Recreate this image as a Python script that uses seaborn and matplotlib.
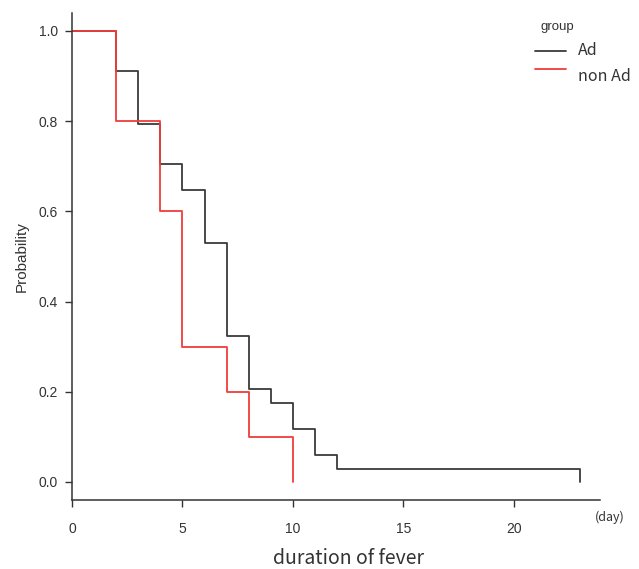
import pandas as pd
import seaborn as sns
import matplotlib.pyplot as plt

# Kaplan-Meier style survival steps
ad_days = [0, 2, 3, 4, 5, 6, 7, 8, 9, 10, 11, 12, 23, 23]
ad_prob = [1.0, 0.912, 0.794, 0.706, 0.647, 0.529, 0.324, 0.206, 0.176,
           0.118, 0.059, 0.029, 0.029, 0.0]
nonad_days = [0, 2, 4, 5, 7, 8, 10, 10]
nonad_prob = [1.0, 0.8, 0.6, 0.3, 0.2, 0.1, 0.1, 0.0]
groups = ["Ad", "non Ad"]
x_ticks = [0, 5, 10, 15, 20]
y_ticks = [0.0, 0.2, 0.4, 0.6, 0.8, 1.0]

df = pd.concat([
    pd.DataFrame({"day": ad_days, "prob": ad_prob, "group": groups[0]}),
    pd.DataFrame({"day": nonad_days, "prob": nonad_prob, "group": groups[1]}),
], ignore_index=True)

sns.set_style("white")
plt.rcParams["font.family"] = ["Liberation Sans", "DejaVu Sans"]

fig = plt.figure(figsize=(6.39, 5.69), dpi=100)
ax = fig.add_axes([0.1127, 0.1213, 0.8263, 0.856])

palette = {"Ad": "#3a3a3a", "non Ad": "#f03c3c"}
sns.lineplot(data=df, x="day", y="prob", hue="group", palette=palette,
             estimator=None, sort=False, drawstyle="steps-post",
             linewidth=1.3, ax=ax, legend=False)

ax.set_xlim(0, 23.9)
ax.set_ylim(-0.04, 1.04)
ax.set_xticks(x_ticks)
ax.set_yticks(y_ticks)
ax.set_yticklabels([f"{v:.1f}" for v in y_ticks])
ax.tick_params(axis="both", direction="out", length=5, width=1,
               bottom=True, left=True,
               color="#333333", labelcolor="#333333", labelsize=10)
ax.tick_params(axis="x", pad=11)
ax.tick_params(axis="y", pad=5)
for side in ["top", "right"]:
    ax.spines[side].set_visible(False)
for side in ["left", "bottom"]:
    ax.spines[side].set_color("#333333")
    ax.spines[side].set_linewidth(1.1)

ax.set_xlabel("")
ax.set_ylabel("Probability", fontsize=11, color="#333333", labelpad=7)
fig.text(0.546, 0.0176, "duration of fever", fontsize=14, color="#333333",
         ha="center", va="center", family=["Noto Sans CJK JP", "DejaVu Sans"])
fig.text(0.955, 0.09, "(day)", fontsize=9, color="#333333",
         ha="center", va="center", family=["Noto Sans CJK JP", "DejaVu Sans"])

# legend drawn by hand in the upper right, as in the picture
fig.text(0.872, 0.953, "group", fontsize=9.5, color="#333333",
         ha="center", va="center")
line_y = [0.911, 0.879]
text_y = [0.912, 0.866]
for i, g in enumerate(groups):
    fig.add_artist(plt.Line2D([0.838, 0.885], [line_y[i], line_y[i]],
                              transform=fig.transFigure, color=palette[g],
                              linewidth=1.3))
    fig.text(0.905, text_y[i], g, fontsize=11.5, color="#333333", ha="left",
             va="center", family=["Noto Sans CJK JP", "DejaVu Sans"])

fig.savefig("out.png", dpi=100)
plt.close(fig)
